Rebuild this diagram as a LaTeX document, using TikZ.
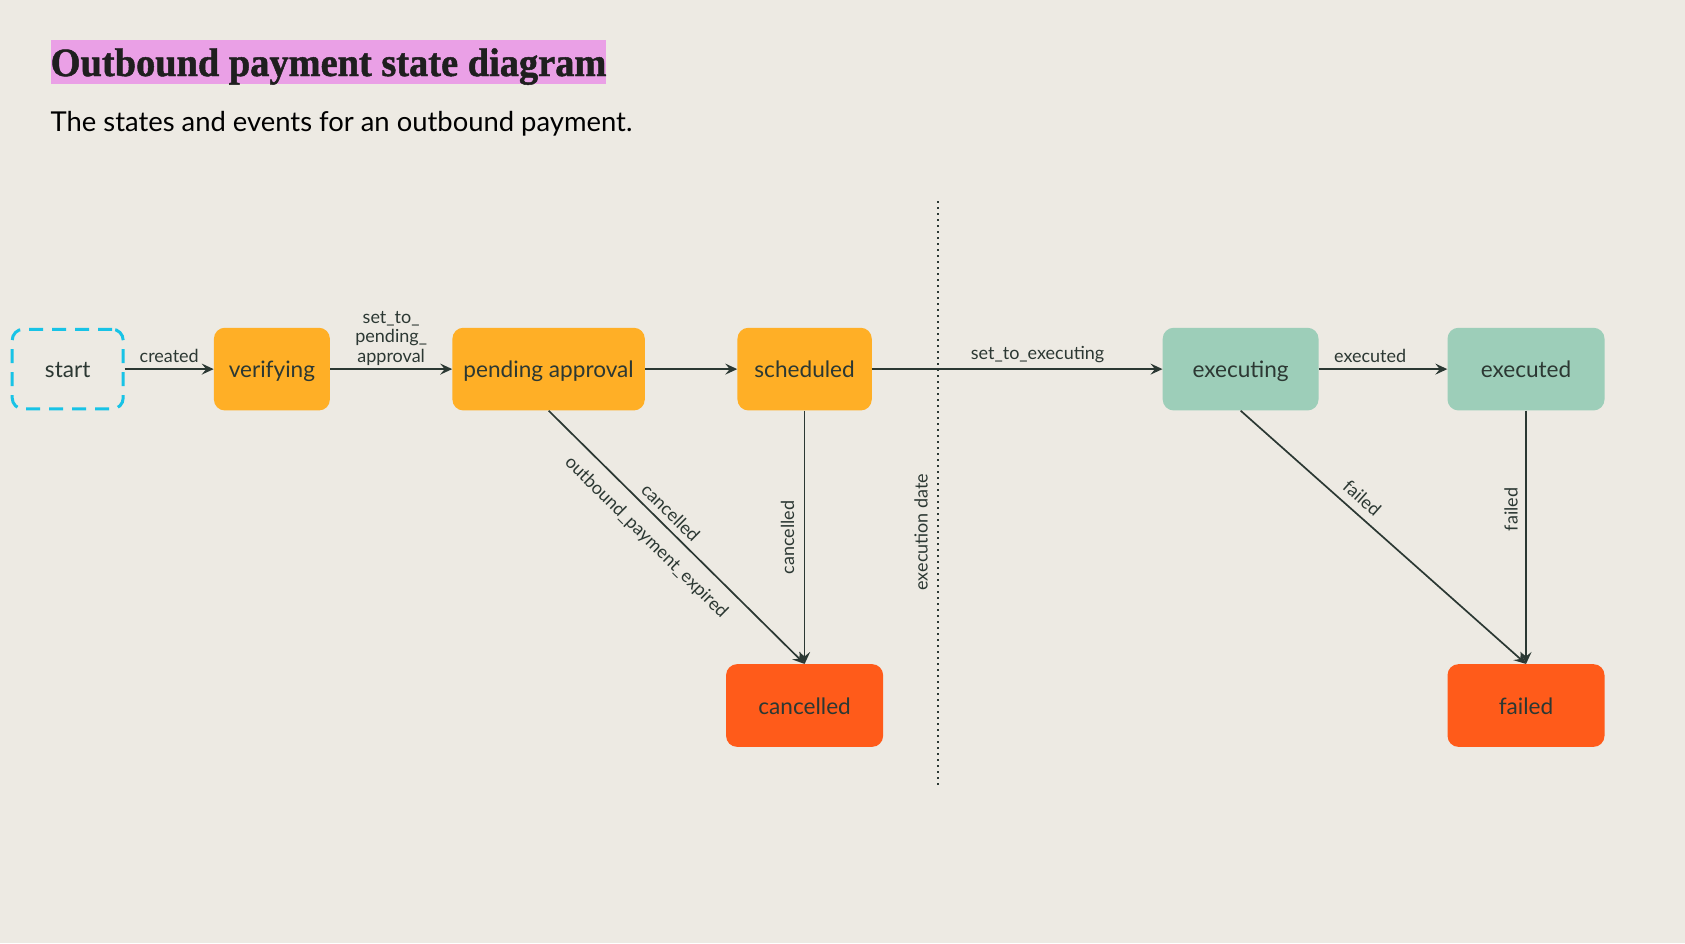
\documentclass[tikz,border=0pt]{standalone}
\usepackage{fontspec}
\setmainfont{Lato}
\newfontfamily\titlefont{Liberation Serif}[FakeStretch=0.96,FakeBold=1.2]
\usetikzlibrary{arrows.meta}
\definecolor{bgc}{HTML}{EDEAE3}
\definecolor{orangec}{HTML}{FFAF26}
\definecolor{redc}{HTML}{FF5B1A}
\definecolor{greenc}{HTML}{9DCEB9}
\definecolor{pinkc}{HTML}{EAA0E6}
\definecolor{cyanc}{HTML}{18C3E6}
\definecolor{txtc}{HTML}{2C3833}
\definecolor{linec}{HTML}{2B3833}
\tikzset{
  state/.style={rounded corners=11pt, minimum height=82.7pt, inner sep=0pt,
    text height=20pt, text depth=3pt,
    text=txtc, font=\fontsize{22.6}{26}\selectfont},
  arr/.style={draw=linec, line width=1.7pt,
    -{Stealth[length=12pt,width=11pt,inset=4.5pt]}},
  lbl/.style={text=txtc, font=\fontsize{18}{19.5}\selectfont, inner sep=3pt},
}
\begin{document}
\begin{tikzpicture}[x=1pt,y=-1pt]
\fill[bgc] (0,0) rectangle (1685,943);
\useasboundingbox (0,0) rectangle (1685,943);

\node[anchor=base west, fill=pinkc, inner sep=0pt, text height=36pt, text depth=8pt,
  text=black!88, font=\titlefont\bfseries\fontsize{40}{40}\selectfont] (title) at (50.5,76)
  {Outbound payment state diagram};
\node[anchor=base west, inner sep=0pt, text=black, font=\fontsize{27.4}{30}\selectfont] (subtitle)
  at (50.5,131.5) {The states and events for an outbound payment.};

\node[state, draw=cyanc, line width=3pt, dash pattern=on 14pt off 9pt,
  minimum width=111pt, minimum height=79.7pt] (start) at (67.7,369.1) {start};
\node[state, fill=orangec, minimum width=116pt] (verifying) at (271.9,369.1) {verifying};
\node[state, fill=orangec, minimum width=192.4pt] (pending) at (548.6,369.1) {pending approval};
\node[state, fill=orangec, minimum width=134.3pt] (scheduled) at (804.6,369.1) {scheduled};
\node[state, fill=redc, minimum width=157pt] (cancelled) at (804.6,705.5) {cancelled};
\node[state, fill=greenc, minimum width=155.8pt] (executing) at (1240.6,369.1) {executing};
\node[state, fill=greenc, minimum width=157pt] (executed) at (1526,369.1) {executed};
\node[state, fill=redc, minimum width=157pt] (failed) at (1526,705.5) {failed};

\coordinate (dtop) at (938,201);
\coordinate (dbot) at (938,787);
\draw[linec, line width=1.5pt, dash pattern=on 1.5pt off 4.5pt] (dtop) -- (dbot);
\node[lbl, rotate=90] (execdate) at (921,532) {execution date};

\draw[arr] (start) -- node[lbl, above=3pt] {created} (verifying);
\draw[arr] (verifying) -- node[lbl, above=0pt, align=center]
  {set\_to\_\\pending\_\\approval} (pending);
\draw[arr] (pending) -- (scheduled);
\draw[arr] (scheduled) -- node[lbl, above=2pt, pos=0.57] {set\_to\_executing} (executing);
\draw[arr] (executing) -- node[lbl, above=3pt, pos=0.4] {executed} (executed);

\draw[arr] (pending.south) -- node[lbl, sloped, above=3pt, pos=0.44] {cancelled}
  node[lbl, sloped, below=9.5pt, pos=0.44] {outbound\_payment\_expired} (cancelled.north);
\draw[arr] (scheduled.south) -- node[lbl, rotate=90, anchor=south, inner ysep=9.5pt, pos=0.5] {cancelled} (cancelled.north);

\draw[arr] (executing.south) -- node[lbl, sloped, above=5pt, pos=0.39] {failed} (failed.north);
\draw[arr] (executed.south) -- node[lbl, rotate=90, anchor=south, inner ysep=7.5pt, pos=0.39] {failed} (failed.north);
\end{tikzpicture}
\end{document}
